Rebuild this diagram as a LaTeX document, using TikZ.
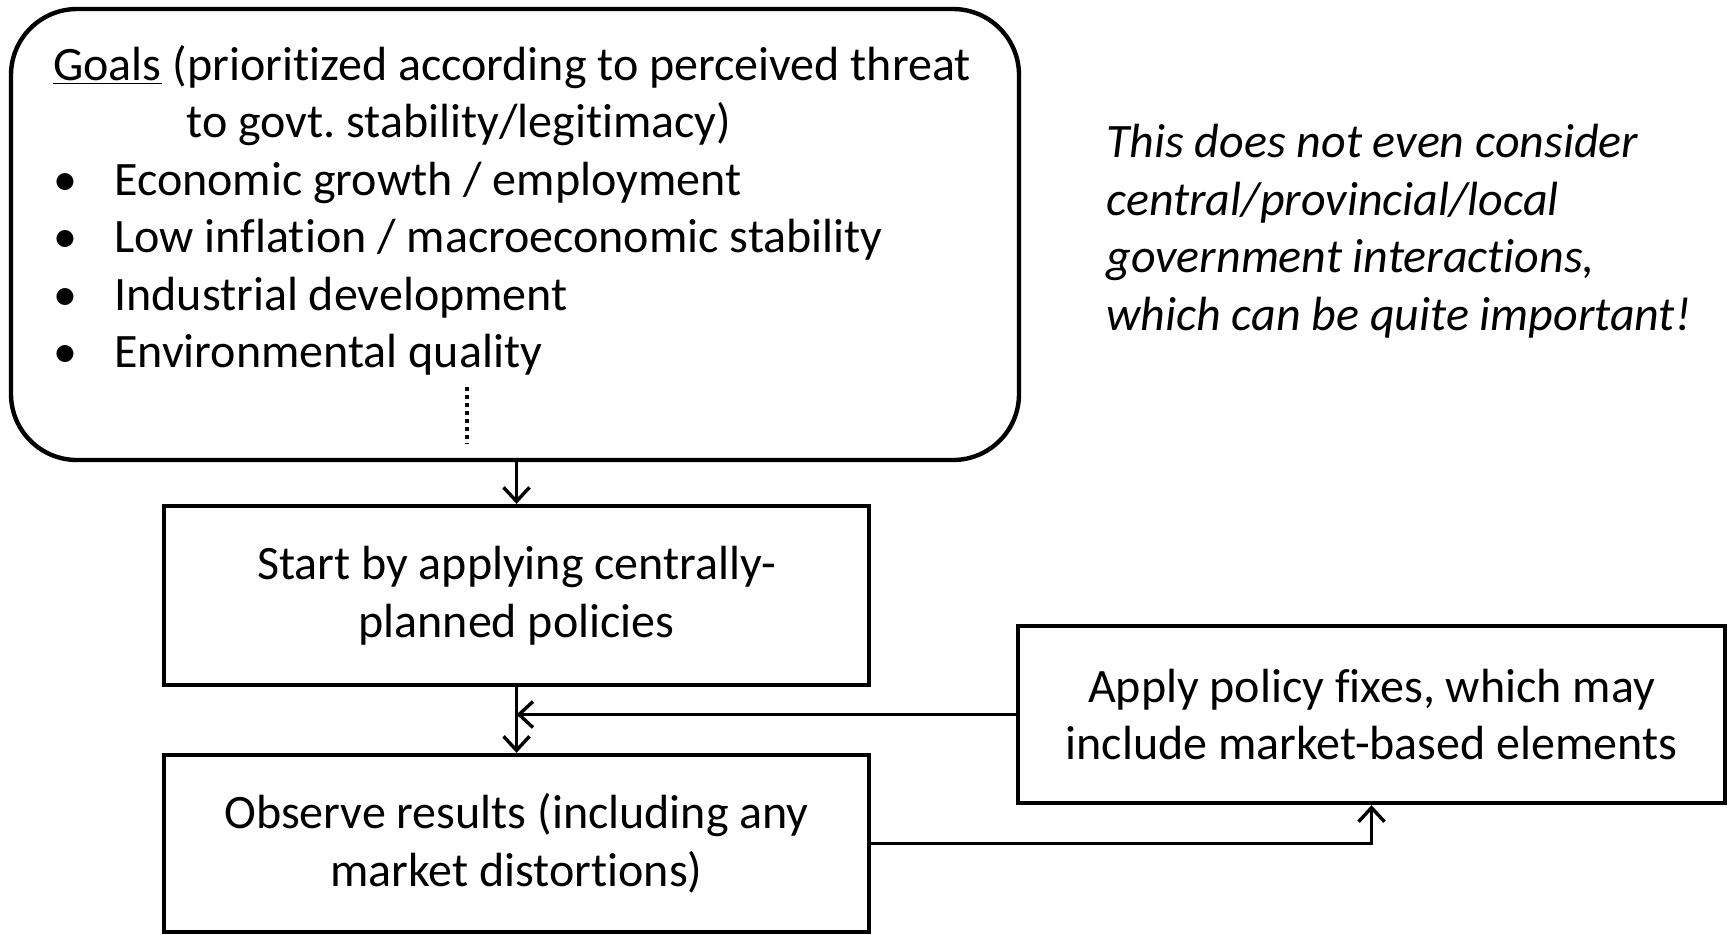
\documentclass[tikz,border=0pt]{standalone}
\usepackage{fontspec}
\setmainfont{Carlito}[RawFeature={-liga;-clig;-calt;-dlig}]
\usetikzlibrary{arrows.meta}
\frenchspacing
\begin{document}
\begin{tikzpicture}[x=0.5pt,y=-0.5pt,
  boxstyle/.style={draw,line width=2.2pt,rectangle,inner sep=0pt,align=center,
    font=\fontsize{24}{28.75}\selectfont},
  conn/.style={line width=1.7pt,-{Straight Barb[length=7pt,width=13pt,line width=1.7pt]}},
  txt/.style={anchor=base west,inner sep=0pt,font=\fontsize{24}{28.75}\selectfont},
  bul/.style={anchor=base,inner sep=0pt,font=\fontsize{24}{28.75}\selectfont}]
\useasboundingbox (0,0) rectangle (1733,934);
% goals box
\node[boxstyle,rounded corners=33pt,minimum width=504pt,minimum height=225.5pt] (goals) at (515,234.5) {};
\node[txt] (g1) at (53,80) {\underline{Goals} (prioritized according to perceived threat};
\node[txt] (g2) at (186,137.5) {to govt. stability/legitimacy)};
\node[bul] (b1) at (65,195) {\textbullet};
\node[txt] (t1) at (114,195) {Economic growth / employment};
\node[bul] (b2) at (65,252.5) {\textbullet};
\node[txt] (t2) at (114,252.5) {Low inflation / macroeconomic stability};
\node[bul] (b3) at (65,310) {\textbullet};
\node[txt] (t3) at (114,310) {Industrial development};
\node[bul] (b4) at (65,367.5) {\textbullet};
\node[txt] (t4) at (114,367.5) {Environmental quality};
\coordinate (d1) at (467,387);
\coordinate (d2) at (467,444);
\draw[line width=1.8pt,dash pattern=on 1.8pt off 2.2pt] (d1) -- (d2);
% note
\node[anchor=north west,inner sep=0pt,align=left,font=\fontsize{24}{28.75}\selectfont\itshape] (note) at (1106,124)
  {This does not even consider\\central/provincial/local\\government interactions,\\which can be quite important!};
% boxes
\node[boxstyle,minimum width=352.5pt,minimum height=89.5pt] (box2) at (516.5,595.5) {Start by applying centrally-\\planned policies};
\node[boxstyle,minimum width=352.5pt,minimum height=88.5pt] (box3) at (516.5,843.5) {Observe results (including any\\market distortions)};
\node[boxstyle,minimum width=353.5pt,minimum height=88.5pt] (box4) at (1371.5,714.5) {Apply policy fixes, which may\\include market-based elements};
% connectors
\draw[conn] (goals.south -| box2.north) -- (box2.north);
\draw[conn] (box2.south) -- (box3.north);
\draw[conn] (box4.west) -- (box4.west -| box2.south);
\draw[conn] (box3.east) -| (box4.south);
\end{tikzpicture}
\end{document}
